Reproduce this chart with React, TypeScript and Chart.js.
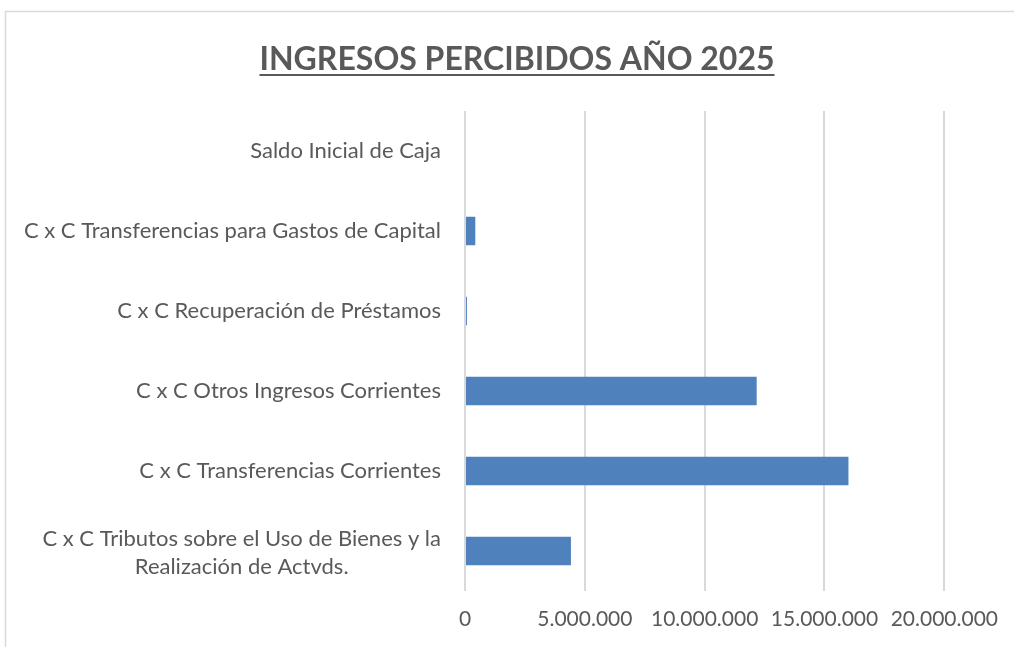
import { useEffect, useRef } from "react";
import { Chart, registerables } from "chart.js";

Chart.register(...registerables);

const TITLE = "INGRESOS PERCIBIDOS AÑO 2025";
const categories: (string | string[])[] = [
  "Saldo Inicial de Caja",
  "C x C Transferencias para Gastos de Capital",
  "C x C Recuperación de Préstamos",
  "C x C Otros Ingresos Corrientes",
  "C x C Transferencias Corrientes",
  ["C x C Tributos sobre el Uso de Bienes y la", "Realización de Actvds."],
];
const values = [0, 430000, 80000, 12170000, 16000000, 4420000];
const xTicks = [0, 5000000, 10000000, 15000000, 20000000];

const TEXT = "#595959";
const GRID = "#d9d9d9";
const BAR = "#4F81BD";
const FONT = "Lato, 'Open Sans', sans-serif";
const LABEL_SIZE = 22;
const TICK_SIZE = 21;

const fmt = (v: number) => String(Math.round(v)).replace(/\B(?=(\d{3})+(?!\d))/g, ".");

export default function App() {
  const ref = useRef<HTMLCanvasElement | null>(null);

  useEffect(() => {
    document.body.style.margin = "0";
    const canvas = ref.current;
    if (!canvas) return;

    const framePlugin = {
      id: "frame",
      beforeDraw(chart: any) {
        const ctx = chart.ctx;
        ctx.save();
        ctx.fillStyle = "#ffffff";
        ctx.fillRect(0, 0, chart.width, chart.height);
        ctx.strokeStyle = GRID;
        ctx.lineWidth = 1.5;
        ctx.strokeRect(5.5, 11.5, 3000, 3000);
        ctx.restore();
      },
    };

    const titlePlugin = {
      id: "ulTitle",
      afterDraw(chart: any) {
        const ctx = chart.ctx;
        ctx.save();
        ctx.font = `bold 32px ${FONT}`;
        ctx.fillStyle = TEXT;
        ctx.textAlign = "center";
        ctx.textBaseline = "alphabetic";
        const cx = 517;
        const by = 70;
        ctx.fillText(TITLE, cx, by);
        const w = ctx.measureText(TITLE).width;
        ctx.fillRect(cx - w / 2, by + 4, w, 2);
        ctx.restore();
      },
    };

    const labelPlugin = {
      id: "catLabels",
      afterDraw(chart: any) {
        const ctx = chart.ctx;
        const ys = chart.scales.y;
        ctx.save();
        ctx.font = `${LABEL_SIZE}px ${FONT}`;
        ctx.fillStyle = TEXT;
        ctx.textAlign = "center";
        ctx.textBaseline = "middle";
        categories.forEach((lab, i) => {
          const lines = Array.isArray(lab) ? lab : [lab];
          const cy = ys.getPixelForValue(i);
          const maxW = Math.max(...lines.map((l) => ctx.measureText(l).width));
          const cx = 441 - maxW / 2;
          const extra = lines.length > 1 ? 2 : 0;
          lines.forEach((l, j) => {
            ctx.fillText(l, cx, cy + (j - (lines.length - 1) / 2) * 28 + extra);
          });
        });
        ctx.restore();
      },
    };

    const chart = new Chart(canvas, {
      type: "bar",
      data: {
        labels: categories,
        datasets: [
          {
            data: values,
            backgroundColor: BAR,
            borderWidth: 0,
            barPercentage: 1,
            categoryPercentage: 0.355,
          },
        ],
      },
      plugins: [framePlugin, titlePlugin, labelPlugin],
      options: {
        indexAxis: "y",
        responsive: false,
        animation: false,
        layout: { padding: { top: 111, right: 69, bottom: 0, left: 0 } },
        plugins: {
          legend: { display: false },
          title: { display: false },
          tooltip: { enabled: false },
        },
        scales: {
          x: {
            type: "linear",
            min: 0,
            max: 20000000,
            afterBuildTicks: (s: any) => {
              s.ticks = xTicks.map((v) => ({ value: v }));
            },
            afterFit: (s: any) => {
              s.height = 56;
            },
            ticks: {
              color: TEXT,
              font: { family: FONT, size: TICK_SIZE },
              padding: 16,
              maxRotation: 0,
              autoSkip: false,
              callback: (v: any) => fmt(Number(v)),
            },
            grid: { color: GRID, lineWidth: 2, drawTicks: false },
            border: { display: false },
          },
          y: {
            type: "category",
            afterFit: (s: any) => {
              s.width = 465;
            },
            ticks: { display: false },
            grid: { display: false, drawTicks: false },
            border: { display: false },
          },
        },
      },
    } as any);

    return () => chart.destroy();
  }, []);

  return (
    <div style={{ position: "fixed", left: 0, top: 0, width: 1014, height: 647 }}>
      <canvas ref={ref} width={1014} height={647} />
    </div>
  );
}
